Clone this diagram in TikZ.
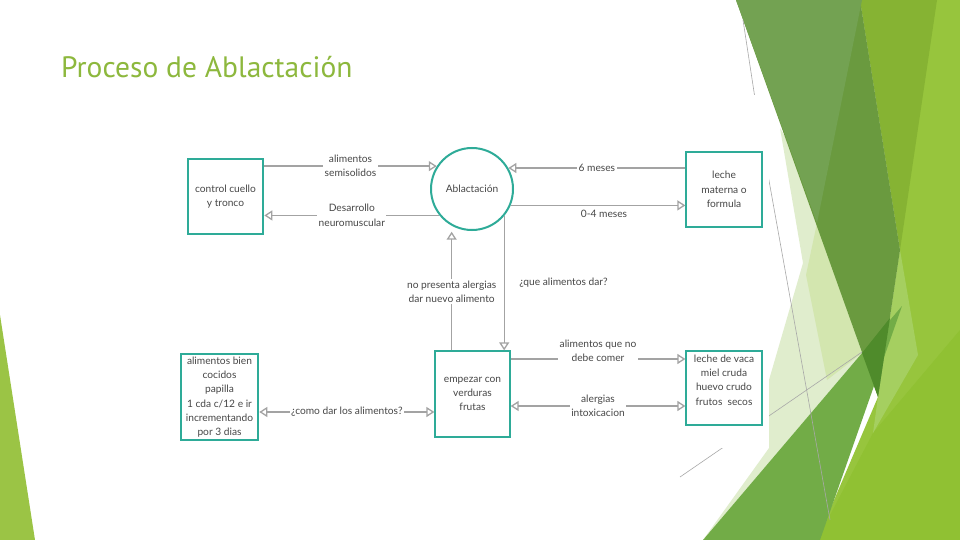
\documentclass[tikz,border=0pt]{standalone}
\usepackage{fontspec}
\setmainfont{Lato}
\newfontfamily\titlefont{PT Sans}
\usetikzlibrary{arrows.meta}
\definecolor{tealb}{HTML}{2EAB98}
\definecolor{lgray}{HTML}{A3A3A3}
\definecolor{txtc}{HTML}{474747}
\definecolor{ttlc}{HTML}{8DB83D}
\definecolor{olivedk}{HTML}{6A9A3F}
\definecolor{olivelt}{HTML}{73A252}
\definecolor{midgr}{HTML}{86B333}
\definecolor{limeA}{HTML}{97C53D}
\definecolor{limeB}{HTML}{90C133}
\definecolor{limeC}{HTML}{A5CF60}
\definecolor{paleA}{HTML}{E0EDCD}
\definecolor{paleB}{HTML}{D3E6AF}
\definecolor{medgr}{HTML}{72AC47}
\definecolor{darktip}{HTML}{4F8B2B}
\definecolor{leftlime}{HTML}{9BC445}
\definecolor{thinl}{HTML}{A8A8A8}
\begin{document}
\begin{tikzpicture}[x=1pt,y=-1pt,
  every node/.style={font=\fontsize{10.2}{14.3}\selectfont, text=txtc},
  bigbox/.style={draw=tealb, line width=2.6pt, align=center, inner sep=0pt},
  smallbox/.style={draw=tealb, line width=1.3pt, align=center, inner sep=0pt},
  conn/.style={draw=lgray, line width=1.3pt},
  lbl/.style={fill=white, inner sep=1.5pt, align=center},
  thinline/.style={draw=thinl, line width=0.6pt},
  >={Triangle[open,length=8pt,width=10pt]}]
\useasboundingbox (0,0) rectangle (960,540);
\fill[white] (0,0) rectangle (960,540);
% decoration
\fill[leftlime] (0,315) -- (35,540) -- (0,540) -- cycle;
\fill[limeA] (860,0) -- (960,0) -- (960,540) -- (817,540) -- (878,397) -- (900,250) -- cycle;
\fill[limeB] (817,540) -- (873,433) -- (960,330) -- (960,540) -- cycle;
\fill[limeC] (900,250) -- (918,355) -- (873,433) -- (878,397) -- cycle;
\fill[paleA] (780,128) -- (880,300) -- (862,353) -- (703,540) -- (769,448) -- (769,380) -- (803,263) -- cycle;
\fill[paleB] (817,223) -- (806,275) -- (827,380) -- (862,353) -- cycle;
\fill[midgr] (860,0) -- (937,0) -- (900,250) -- cycle;
\fill[olivedk] (736,0) -- (860,0) -- (900,250) -- (878,397) -- cycle;
\fill[olivelt] (736,0) -- (862,0) -- (817,223) -- cycle;
\fill[medgr] (703,540) -- (902,306) -- (820,540) -- cycle;
\fill[darktip] (862,353) -- (890,318) -- (878,397) -- cycle;
\draw[thinline] (743,20) -- (758,118);
\draw[thinline] (768,175) -- (830,520);
\draw[thinline] (680,477) -- (862,352);
\fill[white] (150,95) rectangle (769,448);
% title
\node[anchor=base west, font=\titlefont\fontsize{29.5}{34}\selectfont, text=ttlc, inner sep=0pt] (title) at (61,78) {Proceso de Ablactación};
% nodes
\node[bigbox, minimum width=75pt, minimum height=75pt] (ctrl) at (225.5,196.5) {control cuello\\y tronco};
\node[draw=tealb, line width=2pt, circle, minimum size=82pt, inner sep=0pt] (circ) at (472,189) {Ablactación};
\node[smallbox, minimum width=76pt, minimum height=75pt] (leche) at (724,189.5) {leche\\materna o\\formula};
\node[smallbox, minimum width=75pt, minimum height=86pt] (emp) at (472.5,394) {empezar con\\verduras\\frutas};
\node[bigbox, minimum width=77pt, minimum height=86pt] (alim) at (219.5,397) {alimentos bien\\cocidos\\papilla\\1 cda c/12 e ir\\incrementando\\por 3 dias};
\node[smallbox, minimum width=76pt, minimum height=74pt] (vaca) at (724,388) {};
\node[align=center, inner sep=0pt] (vacatxt) at (724,380) {leche de vaca\\miel cruda\\huevo crudo\\frutos\ \ secos};
\coordinate (r7) at (0,412);
\coordinate (r8) at (0,359);
\coordinate (r9) at (0,406);
% connectors
\draw[conn,->] (ctrl.east |- circ.147.6) -- node[lbl]{alimentos\\semisolidos} (circ.147.6);
\draw[conn,->] (circ.219.4) -- node[lbl]{Desarrollo\\neuromuscular} (ctrl.east |- circ.219.4);
\draw[conn,->] (leche.west |- circ.30.8) -- node[lbl]{6 meses} (circ.30.8);
\draw[conn,->] (circ.-23) -- node[below=1pt, xshift=6pt, align=center]{0-4 meses} (leche.west |- circ.-23);
\draw[conn,->] (circ.-40.8) -- (circ.-40.8 |- emp.north);
\node (q1) at (563.5,283) {¿que alimentos dar?};
\draw[conn,->, shorten >=6pt] (emp.north -| circ.-119.2) -- node[lbl, pos=0.47]{no presenta alergias\\dar nuevo alimento} (circ.-119.2);
\draw[conn,<->] (alim.east |- r7) -- node[lbl]{¿como dar los alimentos?} (emp.west |- r7);
\draw[conn,->] (emp.east |- r8) -- node[lbl, yshift=8pt]{alimentos que no\\debe comer} (vaca.west |- r8);
\draw[conn,<->] (emp.east |- r9) -- node[lbl]{alergias\\intoxicacion} (vaca.west |- r9);
\end{tikzpicture}
\end{document}
